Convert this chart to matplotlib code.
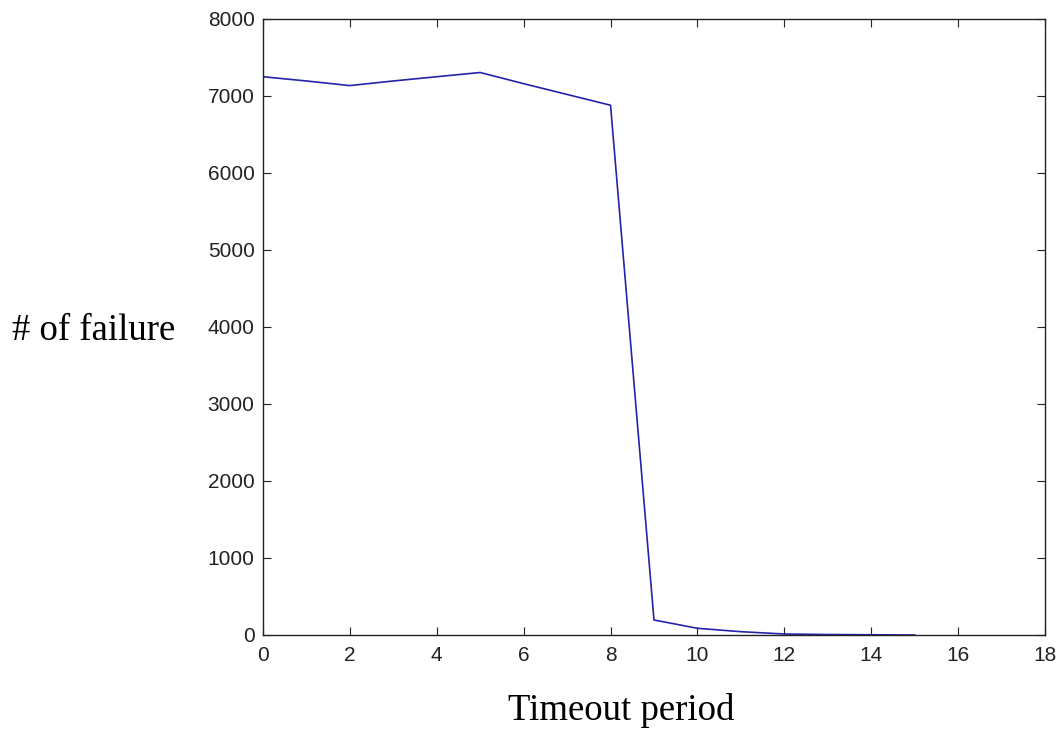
import matplotlib
matplotlib.use("Agg")
from matplotlib import pyplot as plt

# timeout period vs number of failures
timeout = [0, 1, 2, 3, 4, 5, 6, 7, 8, 9, 10, 11, 12, 13, 14, 15]
failures = [7250, 7195, 7135, 7195, 7250, 7305, 7160, 7020, 6880,
            195, 87, 43, 13, 6, 3, 0]

xticks = list(range(0, 19, 2))
yticks = list(range(0, 8001, 1000))

fig = plt.figure(figsize=(10.62, 7.33), dpi=100)
ax = fig.add_axes([0.2476, 0.1337, 0.7364, 0.8404])

ax.plot(timeout, failures, color='#2424a8', linewidth=1.2)

ax.set_xlim(0, 18)
ax.set_ylim(0, 8000)
ax.set_xticks(xticks)
ax.set_yticks(yticks)
ax.tick_params(direction='in', length=6, width=0.8, top=True, right=True,
               labelsize=15, colors='#222222')
ax.tick_params(axis='x', pad=8)
ax.tick_params(axis='y', pad=6)
for lab in ax.get_xticklabels() + ax.get_yticklabels():
    lab.set_family('Liberation Sans')
for sp in ax.spines.values():
    sp.set_color('#222222')
    sp.set_linewidth(1.0)

fig.text(0.0113, 0.5362, '# of failure', ha='left', va='baseline',
         fontsize=26.5, family='Liberation Serif')
fig.text(0.585, 0.0177, 'Timeout period', ha='center', va='baseline',
         fontsize=26.5, family='Liberation Serif')

fig.savefig('out.png', dpi=100)
